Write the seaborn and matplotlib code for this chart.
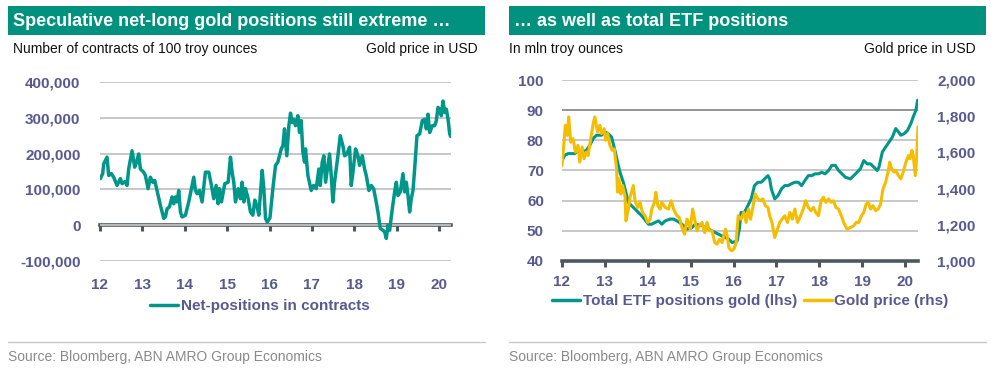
import numpy as np
import pandas as pd
import matplotlib
matplotlib.use("Agg")
import matplotlib.pyplot as plt
import seaborn as sns
from matplotlib.patches import Rectangle
from matplotlib.lines import Line2D
from matplotlib.ticker import FuncFormatter

# ---------------- data ----------------
year_ticks = [2012, 2013, 2014, 2015, 2016, 2017, 2018, 2019, 2020]
year_labels = ["12", "13", "14", "15", "16", "17", "18", "19", "20"]

# Left: speculative net-long positions (thousand contracts), decimal years
net_years = [2012.008, 2012.063, 2012.087, 2012.165, 2012.205, 2012.268, 2012.323, 2012.402, 2012.480, 2012.520,
             2012.598, 2012.638, 2012.677, 2012.756, 2012.819, 2012.858, 2012.913, 2012.953, 2013.031, 2013.071,
             2013.134, 2013.189, 2013.244, 2013.291, 2013.346, 2013.425, 2013.504, 2013.543, 2013.583, 2013.638,
             2013.701, 2013.740, 2013.780, 2013.819, 2013.858, 2013.898, 2013.937, 2014.016, 2014.094, 2014.173,
             2014.213, 2014.252, 2014.291, 2014.346, 2014.409, 2014.488, 2014.567, 2014.630, 2014.685, 2014.740,
             2014.787, 2014.819, 2014.866, 2014.945, 2015.024, 2015.079, 2015.118, 2015.157, 2015.197, 2015.260,
             2015.315, 2015.354, 2015.394, 2015.433, 2015.496, 2015.551, 2015.606, 2015.654, 2015.709, 2015.748,
             2015.827, 2015.866, 2015.906, 2015.945, 2016.010, 2016.079, 2016.142, 2016.197, 2016.276, 2016.315,
             2016.354, 2016.378, 2016.409, 2016.457, 2016.496, 2016.535, 2016.567, 2016.614, 2016.669, 2016.709,
             2016.748, 2016.787, 2016.827, 2016.850, 2016.906, 2016.984, 2017.039, 2017.102, 2017.165, 2017.197,
             2017.244, 2017.283, 2017.323, 2017.378, 2017.417, 2017.457, 2017.496, 2017.535, 2017.614, 2017.669,
             2017.732, 2017.772, 2017.827, 2017.890, 2017.929, 2017.969, 2018.031, 2018.087, 2018.126, 2018.189,
             2018.244, 2018.283, 2018.346, 2018.402, 2018.457, 2018.504, 2018.559, 2018.614, 2018.677, 2018.717,
             2018.756, 2018.795, 2018.835, 2018.898, 2018.953, 2018.992, 2019.031, 2019.087, 2019.150, 2019.189,
             2019.228, 2019.268, 2019.307, 2019.346, 2019.386, 2019.425, 2019.480, 2019.543, 2019.606, 2019.661,
             2019.701, 2019.740, 2019.780, 2019.843, 2019.898, 2019.937, 2019.976, 2020.016, 2020.055, 2020.094,
             2020.134, 2020.173, 2020.213, 2020.252, 2020.276]
net_positions_k = [130, 144, 171, 190, 139, 144, 134, 111, 130, 116,
                   122, 111, 157, 208, 162, 174, 199, 157, 148, 139,
                   102, 134, 120, 125, 97, 56, 19, 23, 46, 51,
                   79, 60, 79, 65, 97, 37, 23, 28, 65, 111,
                   134, 97, 88, 97, 65, 148, 148, 111, 74, 111,
                   60, 102, 65, 116, 120, 190, 148, 120, 65, 102,
                   74, 120, 65, 102, 74, 37, 28, 70, 51, 28,
                   153, 102, 19, 9, 20, 102, 167, 176, 213, 222,
                   269, 236, 194, 278, 313, 287, 296, 278, 306, 259,
                   292, 204, 176, 213, 139, 97, 111, 102, 157, 111,
                   176, 194, 120, 167, 199, 139, 65, 120, 194, 250,
                   222, 194, 199, 218, 111, 148, 213, 194, 167, 194,
                   157, 139, 97, 111, 102, 74, 37, -9, -14, -19,
                   -37, 0, -14, 46, 93, 120, 83, 93, 144, 93,
                   120, 83, 37, 74, 97, 157, 250, 255, 292, 296,
                   269, 310, 259, 278, 278, 292, 329, 324, 306, 347,
                   315, 324, 296, 255, 248]

# Right: total ETF gold positions (mln troy ounces)
etf_years = [2012.000, 2012.063, 2012.141, 2012.297, 2012.375, 2012.453, 2012.570, 2012.648, 2012.727, 2012.805,
             2012.922, 2013.000, 2013.078, 2013.156, 2013.234, 2013.313, 2013.352, 2013.430, 2013.508, 2013.547,
             2013.625, 2013.703, 2013.859, 2014.016, 2014.094, 2014.172, 2014.250, 2014.328, 2014.406, 2014.523,
             2014.602, 2014.680, 2014.797, 2014.914, 2015.031, 2015.109, 2015.266, 2015.422, 2015.578, 2015.734,
             2015.891, 2015.969, 2016.086, 2016.140, 2016.176, 2016.255, 2016.333, 2016.412, 2016.490, 2016.569,
             2016.647, 2016.725, 2016.804, 2016.843, 2016.882, 2016.961, 2017.039, 2017.118, 2017.196, 2017.275,
             2017.353, 2017.431, 2017.510, 2017.588, 2017.667, 2017.745, 2017.824, 2017.902, 2017.980, 2018.059,
             2018.137, 2018.216, 2018.294, 2018.373, 2018.451, 2018.529, 2018.608, 2018.725, 2018.804, 2018.882,
             2018.961, 2019.039, 2019.118, 2019.196, 2019.275, 2019.353, 2019.392, 2019.471, 2019.549, 2019.627,
             2019.706, 2019.784, 2019.847, 2019.902, 2019.980, 2020.059, 2020.137, 2020.192, 2020.255, 2020.294]
etf_positions = [73.3, 75.0, 75.6, 75.6, 76.7, 76.0, 76.7, 78.3, 80.6, 81.7,
                 81.7, 82.8, 82.2, 81.1, 76.7, 71.7, 69.4, 66.1, 61.7, 59.4,
                 58.3, 57.2, 55.0, 52.2, 52.2, 52.8, 53.3, 52.2, 53.3, 53.9,
                 53.9, 53.3, 52.2, 50.6, 51.1, 52.2, 51.7, 50.6, 49.4, 48.3,
                 47.2, 46.1, 46.7, 51.0, 56.1, 56.1, 58.3, 60.6, 65.0, 66.1,
                 66.1, 67.2, 68.3, 67.2, 63.9, 60.6, 61.7, 63.9, 65.0, 65.0,
                 65.6, 66.1, 66.1, 65.0, 66.7, 68.3, 68.3, 68.9, 68.9, 69.4,
                 68.9, 70.0, 71.7, 71.7, 70.0, 68.9, 67.8, 67.2, 68.3, 69.4,
                 70.6, 73.3, 72.2, 72.2, 71.1, 70.0, 71.1, 76.1, 77.8, 79.4,
                 81.1, 83.9, 82.8, 81.7, 82.2, 83.3, 85.6, 87.8, 90.0, 93.3]

# Right: gold price (USD)
gold_years = [2012.000, 2012.047, 2012.078, 2012.125, 2012.156, 2012.203, 2012.258, 2012.313, 2012.375, 2012.414,
              2012.469, 2012.516, 2012.570, 2012.609, 2012.672, 2012.727, 2012.766, 2012.828, 2012.883, 2012.922,
              2012.984, 2013.016, 2013.063, 2013.117, 2013.172, 2013.219, 2013.273, 2013.297, 2013.328, 2013.375,
              2013.414, 2013.469, 2013.492, 2013.547, 2013.586, 2013.664, 2013.703, 2013.766, 2013.820, 2013.875,
              2013.938, 2014.000, 2014.055, 2014.094, 2014.156, 2014.188, 2014.234, 2014.289, 2014.328, 2014.406,
              2014.484, 2014.547, 2014.602, 2014.680, 2014.734, 2014.797, 2014.859, 2014.914, 2014.953, 2014.992,
              2015.047, 2015.094, 2015.148, 2015.203, 2015.266, 2015.328, 2015.383, 2015.438, 2015.500, 2015.563,
              2015.617, 2015.672, 2015.734, 2015.813, 2015.852, 2015.891, 2015.953, 2016.008, 2016.060, 2016.080,
              2016.110, 2016.176, 2016.239, 2016.294, 2016.349, 2016.396, 2016.451, 2016.506, 2016.569, 2016.631,
              2016.686, 2016.741, 2016.804, 2016.843, 2016.898, 2016.961, 2017.024, 2017.078, 2017.133, 2017.196,
              2017.259, 2017.314, 2017.369, 2017.431, 2017.494, 2017.549, 2017.627, 2017.682, 2017.745, 2017.808,
              2017.863, 2017.918, 2017.980, 2018.043, 2018.098, 2018.153, 2018.216, 2018.278, 2018.333, 2018.388,
              2018.451, 2018.514, 2018.569, 2018.647, 2018.725, 2018.804, 2018.859, 2018.922, 2018.984, 2019.039,
              2019.094, 2019.141, 2019.196, 2019.251, 2019.314, 2019.376, 2019.431, 2019.486, 2019.549, 2019.612,
              2019.643, 2019.690, 2019.745, 2019.784, 2019.847, 2019.902, 2019.957, 2020.020, 2020.082, 2020.114,
              2020.161, 2020.192, 2020.239, 2020.271, 2020.302]
gold_price = [1528, 1657, 1750, 1694, 1796, 1657, 1676, 1602, 1639, 1546,
              1630, 1565, 1602, 1583, 1676, 1759, 1796, 1713, 1750, 1704,
              1731, 1667, 1704, 1639, 1611, 1620, 1509, 1380, 1454, 1370,
              1417, 1361, 1222, 1287, 1352, 1417, 1333, 1296, 1324, 1269,
              1250, 1213, 1231, 1287, 1324, 1380, 1306, 1287, 1324, 1296,
              1287, 1333, 1287, 1250, 1241, 1185, 1148, 1231, 1213, 1176,
              1287, 1231, 1167, 1194, 1213, 1157, 1213, 1167, 1167, 1102,
              1093, 1120, 1102, 1176, 1139, 1074, 1056, 1065, 1100, 1160,
              1250, 1231, 1269, 1213, 1287, 1231, 1296, 1370, 1343, 1333,
              1343, 1306, 1296, 1250, 1213, 1130, 1176, 1213, 1231, 1250,
              1213, 1269, 1231, 1287, 1213, 1241, 1287, 1333, 1296, 1278,
              1296, 1269, 1250, 1333, 1352, 1324, 1343, 1324, 1333, 1296,
              1287, 1250, 1213, 1176, 1185, 1194, 1213, 1213, 1250, 1269,
              1315, 1324, 1287, 1306, 1278, 1287, 1315, 1398, 1435, 1500,
              1546, 1509, 1491, 1500, 1472, 1454, 1491, 1546, 1583, 1565,
              1611, 1583, 1472, 1565, 1741]

left_title = "Speculative net-long gold positions still extreme \u2026"
right_title = "\u2026 as well as total ETF positions"
source_text = "Source: Bloomberg, ABN AMRO Group Economics"

# ---------------- style ----------------
sns.set_theme(style="white")
plt.rcParams["font.family"] = ["Liberation Sans", "DejaVu Sans"]

TEAL_HDR = "#00927F"
TEAL = "#00978A"
GOLD = "#F5BD00"
TICKC = "#58598F"
DARK = "#4E585D"
GRID = "#C3C3C3"

W, H = 991, 370
fig = plt.figure(figsize=(W / 100, H / 100), dpi=100)

def fx(px):
    return px / W

def fy(py):
    return 1 - py / H

# headers
for x0, x1, title in [(8, 485, left_title), (509, 986, right_title)]:
    fig.patches.append(Rectangle((fx(x0), fy(35)), fx(x1 - x0), (35 - 6) / H,
                                 transform=fig.transFigure, facecolor=TEAL_HDR,
                                 edgecolor="none", zorder=0))
    fig.text(fx(x0 + 5), fy(21), title, color="white", fontsize=13,
             fontweight="bold", va="center", ha="left")
    fig.lines.append(Line2D([fx(x0), fx(x1)], [fy(342), fy(342)],
                            transform=fig.transFigure, color="#C8C8C8", lw=1))
    fig.text(fx(x0), fy(357), source_text, color="#8A8A8A", fontsize=10,
             va="center", ha="left")

fig.text(fx(13), fy(49), "Number of contracts of 100 troy ounces", fontsize=10,
         color="#111111", va="center", ha="left")
fig.text(fx(478), fy(49), "Gold price in USD", fontsize=10, color="#111111",
         va="center", ha="right")
fig.text(fx(509), fy(49), "In mln troy ounces", fontsize=10, color="#111111",
         va="center", ha="left")
fig.text(fx(976), fy(49), "Gold price in USD", fontsize=10, color="#111111",
         va="center", ha="right")

thousands = FuncFormatter(lambda v, p: f"{int(v):,}")

# ---------------- left panel ----------------
axL = fig.add_axes([fx(100), 1 - 261 / H, fx(351), 179 / H])
df_net = pd.DataFrame({"year": net_years,
                       "contracts": np.array(net_positions_k) * 1000})
sns.lineplot(data=df_net, x="year", y="contracts", ax=axL, color=TEAL, lw=2.5,
             legend=False, zorder=3)
axL.set_xlim(2012, 2020.283)
axL.set_ylim(-100000, 400000)
axL.set_yticks([-100000, 0, 100000, 200000, 300000, 400000])
axL.yaxis.set_major_formatter(thousands)
axL.set_xticks(year_ticks)
axL.set_xticklabels(year_labels)
axL.grid(axis="y", color=GRID, lw=1.3)
axL.grid(axis="x", visible=False)
for s in axL.spines.values():
    s.set_visible(False)
axL.tick_params(axis="both", length=0, labelsize=11, labelcolor=TICKC)
axL.tick_params(axis="x", pad=12)
axL.tick_params(axis="y", pad=14)
for lab in axL.get_xticklabels() + axL.get_yticklabels():
    lab.set_fontweight("bold")
axL.set_xlabel("")
axL.set_ylabel("")
sec = axL.secondary_xaxis(0.2)
sec.set_xticks(year_ticks)
sec.tick_params(axis="x", length=4, width=2.2, color=DARK, labelbottom=False,
                labeltop=False, direction="out")
sec.spines["bottom"].set_color(DARK)
sec.spines["bottom"].set_linewidth(2.6)

hL = [Line2D([], [], color=TEAL, lw=2.5)]
fig.legend(hL, ["Net-positions in contracts"], loc="center left",
           bbox_to_anchor=(fx(150), fy(306)), frameon=False, borderpad=0,
           borderaxespad=0, handlelength=1.85, handletextpad=0.15,
           prop={"size": 11, "weight": "bold"}, labelcolor=TICKC)

# ---------------- right panel ----------------
axR = fig.add_axes([fx(562), 1 - 261 / H, fx(356), 181 / H])
df_etf = pd.DataFrame({"year": etf_years, "etf": etf_positions})
df_gold = pd.DataFrame({"year": gold_years, "gold": gold_price})
sns.lineplot(data=df_etf, x="year", y="etf", ax=axR, color=TEAL, lw=2.2,
             legend=False, zorder=3)
axR.set_xlim(2012, 2020.303)
axR.set_ylim(40, 100)
axR.set_yticks([40, 50, 60, 70, 80, 90, 100])
axR.set_xticks(year_ticks)
axR.set_xticklabels(year_labels)
axR.grid(axis="y", color=GRID, lw=1.3)
axR.grid(axis="x", visible=False)
for g, t in zip(axR.yaxis.get_gridlines(), axR.get_yticks()):
    if t == 90:
        g.set_color("#8A8A8A")
for k, s in axR.spines.items():
    s.set_visible(k == "bottom")
axR.spines["bottom"].set_color(DARK)
axR.spines["bottom"].set_linewidth(2.6)
axR.tick_params(axis="y", length=0, pad=13, labelsize=11, labelcolor=TICKC)
axR.tick_params(axis="x", length=4, width=2.2, color=DARK, pad=6,
                labelsize=11, labelcolor=TICKC, bottom=True)
for lab in axR.get_xticklabels() + axR.get_yticklabels():
    lab.set_fontweight("bold")
axR.set_xlabel("")
axR.set_ylabel("")

axR2 = axR.twinx()
sns.lineplot(data=df_gold, x="year", y="gold", ax=axR2, color=GOLD, lw=2.2,
             legend=False, zorder=4)
axR2.set_ylim(1000, 2000)
axR2.set_yticks([1000, 1200, 1400, 1600, 1800, 2000])
axR2.yaxis.set_major_formatter(thousands)
axR2.grid(False)
for s in axR2.spines.values():
    s.set_visible(False)
axR2.tick_params(axis="y", length=0, pad=14, labelsize=11, labelcolor=TICKC)
for lab in axR2.get_yticklabels():
    lab.set_fontweight("bold")
axR2.set_ylabel("")
axR2.set_xlim(2012, 2020.303)

hR = [Line2D([], [], color=TEAL, lw=2.5), Line2D([], [], color=GOLD, lw=2.5)]
fig.legend(hR, ["Total ETF positions gold (lhs)", "Gold price (rhs)"],
           loc="center left", bbox_to_anchor=(fx(552), fy(301)), frameon=False,
           borderpad=0, borderaxespad=0, handlelength=1.85, handletextpad=0.15,
           columnspacing=0.45, ncol=2, prop={"size": 11, "weight": "bold"},
           labelcolor=TICKC)

fig.savefig("out.png", dpi=100)
